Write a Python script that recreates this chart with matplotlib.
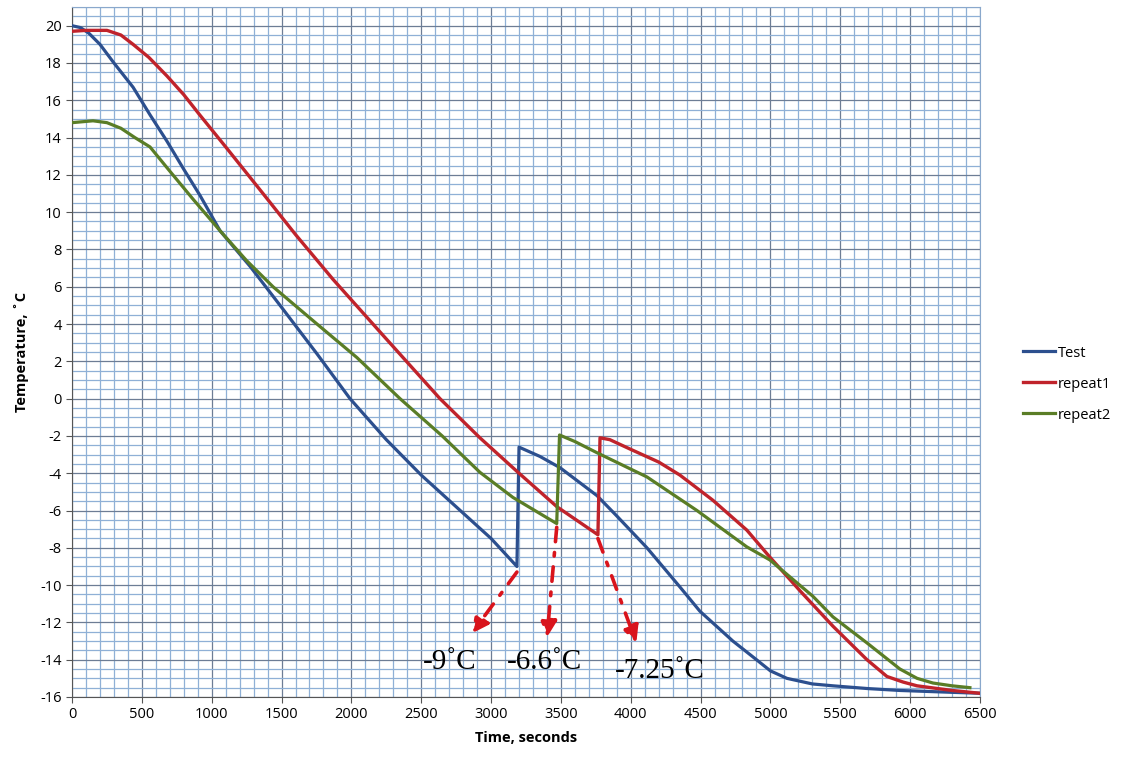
import numpy as np
import matplotlib
matplotlib.use("Agg")
import matplotlib.pyplot as plt
from matplotlib.ticker import MultipleLocator

plt.rcParams['axes.unicode_minus'] = False

# Дані: час (с) і температура (°C)
test_t = [0, 60, 120, 200, 300, 437, 560, 680, 800, 916, 1060, 1274, 1510, 1754, 1990, 2250, 2500,
          2750, 3000, 3185,
          3200, 3350, 3493, 3758, 3901, 4116, 4352, 4495, 4731, 4900, 5000, 5118, 5300, 5447, 5700,
          5927, 6300, 6500]
test_T = [20.0, 19.9, 19.6, 19.0, 18.0, 16.7, 15.2, 13.8, 12.3, 10.9, 9.0, 7.1, 4.8, 2.4, 0.0, -2.2,
          -4.1, -5.8, -7.5, -9.0,
          -2.6, -3.1, -3.7, -5.2, -6.3, -8.0, -10.1, -11.4, -13.0, -14.0, -14.6, -15.0, -15.3, -15.4,
          -15.55, -15.65, -15.75, -15.8]

rep1_t = [0, 100, 250, 350, 437, 550, 680, 800, 916, 1100, 1367, 1600, 1868, 2226, 2634, 2920, 3200,
          3472, 3765,
          3780, 3850, 3994, 4200, 4352, 4588, 4831, 4996, 5211, 5447, 5691, 5834, 5950, 6049, 6300, 6500]
rep1_T = [19.7, 19.75, 19.75, 19.5, 19.0, 18.3, 17.3, 16.3, 15.2, 13.5, 11.0, 8.8, 6.4, 3.4, 0.0,
          -2.1, -4.0, -5.8, -7.3,
          -2.1, -2.2, -2.7, -3.4, -4.1, -5.45, -7.05, -8.5, -10.3, -12.2, -14.0, -14.9, -15.2, -15.4,
          -15.65, -15.8]

rep2_t = [0, 150, 250, 350, 450, 558, 700, 866, 1060, 1250, 1439, 1754, 2040, 2348, 2650, 2920,
          3157, 3470,
          3490, 3600, 3758, 4116, 4474, 4831, 4996, 5304, 5447, 5691, 5927, 6050, 6163, 6300, 6428]
rep2_T = [14.8, 14.9, 14.8, 14.5, 14.0, 13.5, 12.2, 10.7, 9.0, 7.4, 6.0, 4.0, 2.2, 0.0, -2.0, -3.95,
          -5.3, -6.7,
          -1.95, -2.3, -2.9, -4.2, -6.0, -7.95, -8.65, -10.6, -11.7, -13.1, -14.5, -15.0, -15.25,
          -15.4, -15.5]

# Підписи температур кристалізації
labels = ['-9˚C', '-6.6˚C', '-7.25˚C']
arrow_from = [(3185, -9.3), (3470, -6.9), (3765, -7.5)]
arrow_to = [(2860, -12.6), (3400, -12.8), (4040, -13.1)]
label_pos = [(2706, -14.1), (3386, -14.1), (4209, -14.6)]

fig = plt.figure(figsize=(11.22, 7.59), dpi=100)
ax = fig.add_axes([0.0642, 0.0817, 0.8092, 0.909])

ax.plot(test_t, test_T, color='#2c4f8e', lw=2.3, label='Test', zorder=3)
ax.plot(rep1_t, rep1_T, color='#c0232b', lw=2.4, label='repeat1', zorder=3)
ax.plot(rep2_t, rep2_T, color='#5a7d26', lw=2.3, label='repeat2', zorder=3)

for s, (xa, ya), (xb, yb), (xl, yl) in zip(labels, arrow_from, arrow_to, label_pos):
    ax.annotate('', xy=(xb, yb), xytext=(xa, ya),
                arrowprops=dict(arrowstyle='-|>,head_length=1.0,head_width=0.5', color='#d9141c',
                                lw=2.6, linestyle=(0, (4, 3, 1, 3)), shrinkA=0, shrinkB=0), zorder=4)
    ax.text(xl, yl, s, fontsize=21, family='Liberation Serif', ha='center', va='center', zorder=4)

ax.set_xlim(0, 6500)
ax.set_ylim(-16, 21)
ax.xaxis.set_major_locator(MultipleLocator(500))
ax.xaxis.set_minor_locator(MultipleLocator(100))
ax.yaxis.set_minor_locator(MultipleLocator(0.5))
ax.set_yticks(np.arange(-16, 21, 2))

ax.grid(which='major', color='#6d7d95', lw=0.9)
ax.grid(which='minor', color='#8fb0d6', lw=0.9)
ax.set_axisbelow(True)

ax.tick_params(which='major', length=4, width=0.8, color='#555555', labelsize=10.5)
ax.tick_params(which='minor', length=0)
for lab in ax.get_xticklabels() + ax.get_yticklabels():
    lab.set_family('Open Sans')

for side in ['top', 'right']:
    ax.spines[side].set_color('#8aa8cc')
for side in ['left', 'bottom']:
    ax.spines[side].set_color('#555555')

ax.set_xlabel('Time, seconds', fontsize=10.5, fontweight='bold', family='Open Sans', labelpad=6)
ax.set_ylabel('Temperature, ˚C', fontsize=10.5, fontweight='bold', family='Open Sans', labelpad=8)

fig.legend(loc='center left', bbox_to_anchor=(0.9, 0.494), frameon=False,
           handlelength=2.2, handletextpad=0.2, labelspacing=1.1,
           prop={'family': 'Open Sans', 'size': 10.5})

fig.savefig('out.png', dpi=100)
